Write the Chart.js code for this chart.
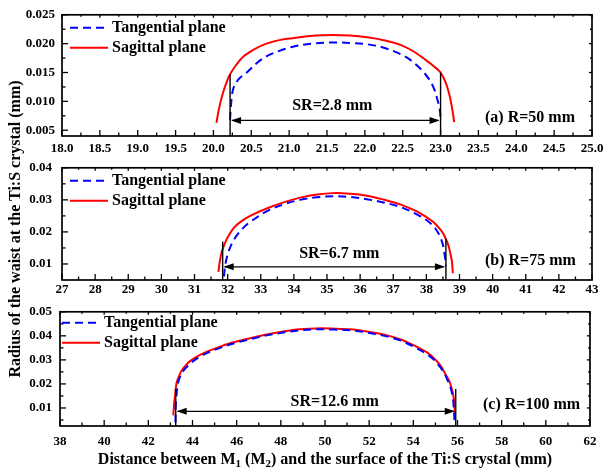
<!DOCTYPE html>
<html><head><meta charset="utf-8">
<script src="https://cdn.jsdelivr.net/npm/chart.js@4/dist/chart.umd.min.js"></script>
<style>
html,body{margin:0;padding:0;background:#fff;width:603px;height:472px;overflow:hidden;position:relative;}
canvas{position:absolute;left:0;}
.t{position:absolute;font:bold 16px "Liberation Serif","Times New Roman",serif;color:#000;white-space:nowrap;}
sub{font-size:11px;vertical-align:-3px;line-height:0;}
</style></head><body>
<canvas id="ca" width="620" height="166" style="top:0px"></canvas>
<canvas id="cb" width="620" height="160" style="top:150px"></canvas>
<canvas id="cc" width="620" height="160" style="top:296px"></canvas>
<div class="t" id="xt" style="left:0;width:650px;text-align:center;top:450px;">Distance between M<sub>1</sub> (M<sub>2</sub>) and the surface of the Ti:S crystal (mm)</div>
<div class="t" id="yt" style="left:-185px;top:220px;width:400px;text-align:center;transform:rotate(-90deg);">Radius of the waist at the Ti:S crystal (mm)</div>
<script>
// ---------- Panel (a) R=50 mm ----------
const aTanX = [20.22,20.23,20.26,20.33,20.44,20.57,20.70,20.88,21.06,21.30,21.58,21.85,22.03,22.25,22.47,22.60,22.69,22.78,22.86,22.92,22.96,22.99,23.00];
const aTanY = [0.0068,0.0090,0.0121,0.0138,0.0150,0.0166,0.0178,0.0188,0.0195,0.0200,0.0202,0.0201,0.0199,0.0193,0.0182,0.0172,0.0162,0.0150,0.0136,0.0120,0.0102,0.0085,0.0068];
const aSagX = [20.04,20.07,20.12,20.18,20.22,20.30,20.40,20.55,20.70,20.90,21.14,21.35,21.58,21.80,22.03,22.25,22.47,22.65,22.80,22.91,23.00,23.06,23.11,23.15,23.18];
const aSagY = [0.0063,0.0085,0.0112,0.0135,0.0147,0.0163,0.0178,0.0191,0.0200,0.0207,0.0211,0.0214,0.0215,0.0214,0.0211,0.0206,0.0198,0.0186,0.0172,0.0161,0.0150,0.0135,0.0115,0.0090,0.0064];
const aXTicks = [18.0,18.5,19.0,19.5,20.0,20.5,21.0,21.5,22.0,22.5,23.0,23.5,24.0,24.5,25.0];
const aYTicks = [0.005,0.010,0.015,0.020,0.025];
const aMarkX = [20.22,23.00];
const aMarkTop = [0.0147,0.0150];
const aArrowY = 0.0067;
const aSR = "SR=2.8 mm", aSRX = 21.57, aSRY = 0.0093;
const aTag = "(a) R=50 mm", aTagY = 0.0071;

// ---------- Panel (b) R=75 mm ----------
const bTanX = [31.89,31.92,31.97,32.05,32.18,32.40,32.68,33.18,33.69,34.19,34.70,35.20,35.70,36.20,36.70,37.21,37.71,38.00,38.22,38.35,38.42,38.50,38.54,38.57,38.59];
const bTanY = [0.0061,0.0090,0.0118,0.0145,0.0174,0.0205,0.0231,0.0264,0.0286,0.0300,0.0308,0.0311,0.0309,0.0302,0.0292,0.0278,0.0255,0.0237,0.0217,0.0198,0.0184,0.0160,0.0137,0.0115,0.0094];
const bSagX = [31.72,31.76,31.82,31.90,31.98,32.18,32.40,32.68,33.18,33.69,34.19,34.70,35.20,35.70,36.20,36.70,37.21,37.71,38.00,38.22,38.40,38.52,38.60,38.67,38.73,38.77,38.80];
const bSagY = [0.0075,0.0105,0.0137,0.0160,0.0179,0.0212,0.0232,0.0250,0.0273,0.0292,0.0307,0.0317,0.0321,0.0319,0.0313,0.0301,0.0286,0.0264,0.0246,0.0230,0.0210,0.0193,0.0175,0.0156,0.0130,0.0108,0.0071];
const bXTicks = [27,28,29,30,31,32,33,34,35,36,37,38,39,40,41,42,43];
const bYTicks = [0.01,0.02,0.03,0.04];
const bMarkX = [31.85,38.59];
const bMarkTop = [0.0170,0.0179];
const bArrowY = 0.0091;
const bSR = "SR=6.7 mm", bSRX = 35.37, bSRY = 0.0132;
const bTag = "(b) R=75 mm", bTagY = 0.0111;

// ---------- Panel (c) R=100 mm ----------
const cTanX = [43.23,43.24,43.28,43.35,43.46,43.60,43.80,44.00,44.40,45.10,45.85,46.60,47.36,48.11,48.87,49.63,50.40,51.13,51.90,52.64,53.40,54.16,54.60,54.91,55.20,55.40,55.55,55.70,55.80,55.84,55.86];
const cTanY = [0.0040,0.0110,0.0160,0.0205,0.0235,0.0256,0.0277,0.0293,0.0317,0.0345,0.0368,0.0386,0.0402,0.0414,0.0423,0.0427,0.0426,0.0423,0.0414,0.0401,0.0381,0.0348,0.0325,0.0302,0.0272,0.0245,0.0215,0.0180,0.0135,0.0090,0.0050];
const cSagX = [43.13,43.17,43.21,43.28,43.40,43.51,43.70,43.89,44.34,45.10,45.85,46.60,47.36,48.11,48.87,49.63,50.40,51.13,51.90,52.64,53.40,54.16,54.60,54.91,55.20,55.36,55.55,55.66,55.81,55.86,55.89];
const cSagY = [0.0069,0.0120,0.0153,0.0205,0.0235,0.0256,0.0278,0.0295,0.0321,0.0350,0.0373,0.0390,0.0406,0.0418,0.0427,0.0431,0.0430,0.0427,0.0418,0.0406,0.0386,0.0354,0.0332,0.0309,0.0280,0.0256,0.0225,0.0205,0.0153,0.0110,0.0062];
const cXTicks = [38,40,42,44,46,48,50,52,54,56,58,60,62];
const cYTicks = [0.01,0.02,0.03,0.04,0.05];
const cMarkX = [43.24,55.92];
const cMarkTop = [0.0179,0.0179];
const cArrowY = 0.0086;
const cSR = "SR=12.6 mm", cSRX = 50.44, cSRY = 0.0124;
const cTag = "(c) R=100 mm", cTagY = 0.0112;

const seriesNames = ["Tangential plane","Sagittal plane"];

const SERIF = '"Liberation Serif","Times New Roman",serif';
const zip = (xs, ys) => xs.map((x, i) => ({x, y: ys[i]}));

function midpoints(t, lo, hi){
  const out = [];
  for (let i = 0; i < t.length - 1; i++) out.push((t[i] + t[i+1]) / 2);
  const st = t[1] - t[0];
  if (t[0] - st/2 > lo) out.push(t[0] - st/2);
  if (t[t.length-1] + st/2 < hi) out.push(t[t.length-1] + st/2);
  return out;
}

const deco = {
  id: 'deco',
  afterDatasetsDraw(chart, args, o){
    const {ctx, chartArea: a, scales: {x, y}} = chart;
    ctx.save();
    ctx.strokeStyle = '#000'; ctx.fillStyle = '#000';
    const ln = (x1,y1,x2,y2) => { ctx.beginPath(); ctx.moveTo(x1,y1); ctx.lineTo(x2,y2); ctx.stroke(); };
    ctx.lineWidth = 1.3;
    const xMin = midpoints(o.xt, x.min, x.max), yMin = midpoints(o.yt, y.min, y.max);
    o.xt.forEach(v => { const p = x.getPixelForValue(v); ln(p, a.bottom, p, a.bottom-6); ln(p, a.top, p, a.top+3); });
    xMin.forEach(v => { const p = x.getPixelForValue(v); ln(p, a.bottom, p, a.bottom-3.5); ln(p, a.top, p, a.top+2); });
    o.yt.forEach(v => { const p = y.getPixelForValue(v); ln(a.left, p, a.left+6, p); ln(a.right, p, a.right-3, p); });
    yMin.forEach(v => { const p = y.getPixelForValue(v); ln(a.left, p, a.left+3.5, p); ln(a.right, p, a.right-2, p); });
    ctx.lineWidth = 1.7;
    ctx.strokeRect(a.left, a.top, a.right-a.left, a.bottom-a.top);
    // markers
    ctx.lineWidth = 1.4;
    const mx = o.markX.map(v => x.getPixelForValue(v));
    o.markX.forEach((v,i) => ln(mx[i], a.bottom, mx[i], y.getPixelForValue(o.markTop[i])));
    const ay = y.getPixelForValue(o.arrowY);
    ln(mx[0]+2, ay, mx[1]-2, ay);
    const head = (px, dir) => { ctx.beginPath(); ctx.moveTo(px, ay); ctx.lineTo(px+dir*10, ay-3.5); ctx.lineTo(px+dir*10, ay+3.5); ctx.closePath(); ctx.fill(); };
    head(mx[0]+1, 1); head(mx[1]-1, -1);
    ctx.font = 'bold 16px ' + SERIF;
    ctx.textBaseline = 'middle';
    ctx.textAlign = 'center';
    ctx.fillText(o.sr, x.getPixelForValue(o.srX), y.getPixelForValue(o.srY));
    ctx.textAlign = 'left';
    ctx.fillText(o.tag, a.right - 107, y.getPixelForValue(o.tagY));
    // legend
    ctx.font = 'bold 16px ' + SERIF;
    chart.data.datasets.forEach((ds, i) => {
      const ly = a.top + o.lg[1] + i*20;
      ctx.strokeStyle = ds.borderColor; ctx.lineWidth = 2;
      ctx.setLineDash(ds.borderDash || []);
      ln(a.left + o.lg[0], ly, a.left + o.lg[0] + 38, ly);
      ctx.setLineDash([]);
      ctx.fillText(ds.label, a.left + o.lg[0] + 42, ly);
    });
    ctx.restore();
  }
};

function makePanel(id, tx, ty, sx, sy, xt, yt, xmin, xmax, ymin, ymax, dec, yDec, padTop, yW, xPad, yPad, right, extra){
  new Chart(document.getElementById(id), {
    type: 'scatter',
    data: { datasets: [
      { label: seriesNames[0], data: zip(tx, ty), showLine: true, borderColor: '#0000ff', borderWidth: 2, borderDash: [8,5], pointRadius: 0, tension: 0.35, fill: false },
      { label: seriesNames[1], data: zip(sx, sy), showLine: true, borderColor: '#ff0000', borderWidth: 2, pointRadius: 0, tension: 0.35, fill: false }
    ]},
    options: {
      responsive: false, animation: false, devicePixelRatio: 1,
      layout: { padding: { top: padTop, left: 0, right: 620 - right, bottom: 0 } },
      plugins: { legend: { display: false }, tooltip: { enabled: false }, deco: Object.assign({xt, yt}, extra) },
      scales: {
        x: { type: 'linear', min: xmin, max: xmax,
          afterBuildTicks: s => { s.ticks = xt.map(v => ({value: v})); },
          afterFit: s => { s.height = 30; },
          grid: { display: false, drawTicks: false }, border: { display: false },
          ticks: { padding: xPad, color: '#000', maxRotation: 0, autoSkip: false, font: { family: SERIF, size: 13, weight: 'bold' }, callback: v => v.toFixed(dec) } },
        y: { type: 'linear', min: ymin, max: ymax,
          afterBuildTicks: s => { s.ticks = yt.map(v => ({value: v})); },
          afterFit: s => { s.width = yW; },
          grid: { display: false, drawTicks: false }, border: { display: false },
          ticks: { padding: yPad, color: '#000', autoSkip: false, font: { family: SERIF, size: 13, weight: 'bold' }, callback: v => v.toFixed(yDec) } }
      }
    },
    plugins: [deco]
  });
}

makePanel('ca', aTanX, aTanY, aSagX, aSagY, aXTicks, aYTicks, 18, 25, 0.004, 0.025, 1, 3, 13, 62, 5, 7, 592,
  {markX: aMarkX, markTop: aMarkTop, arrowY: aArrowY, sr: aSR, srX: aSRX, srY: aSRY, tag: aTag, tagY: aTagY, lg: [8, 13]});
makePanel('cb', bTanX, bTanY, bSagX, bSagY, bXTicks, bYTicks, 27, 43, 0.005, 0.04, 0, 2, 7, 62, 2, 10, 592,
  {markX: bMarkX, markTop: bMarkTop, arrowY: bArrowY, sr: bSR, srX: bSRX, srY: bSRY, tag: bTag, tagY: bTagY, lg: [8, 13]});
makePanel('cc', cTanX, cTanY, cSagX, cSagY, cXTicks, cYTicks, 38, 62, 0.0025, 0.05, 0, 2, 8, 60, 8, 8, 590,
  {markX: cMarkX, markTop: cMarkTop, arrowY: cArrowY, sr: cSR, srX: cSRX, srY: cSRY, tag: cTag, tagY: cTagY, lg: [2, 11]});
</script>
</body></html>
